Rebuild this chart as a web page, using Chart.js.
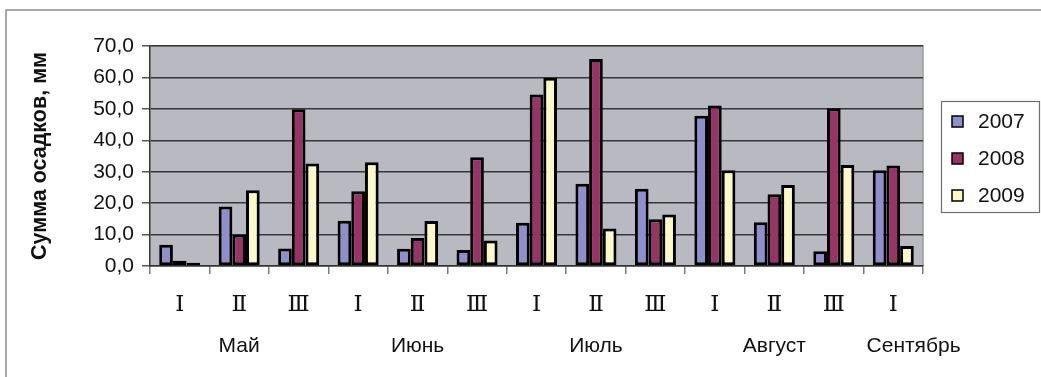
<!DOCTYPE html>
<html lang="ru">
<head>
<meta charset="utf-8">
<title>Сумма осадков по декадам, 2007–2009</title>
<script src="https://cdn.jsdelivr.net/npm/chart.js@4/dist/chart.umd.min.js"></script>
<style>
  html, body { margin: 0; padding: 0; background: #ffffff; }
  #wrap { width: 1041px; height: 377px; position: relative; }
  canvas { display: block; }
</style>
</head>
<body>
<div id="wrap"><canvas id="chart" width="1041" height="377"></canvas></div>
<script>
// Decades (I, II, III) of each month, May through the first decade of September
const decades = ['Ⅰ', 'Ⅱ', 'Ⅲ', 'Ⅰ', 'Ⅱ', 'Ⅲ', 'Ⅰ', 'Ⅱ', 'Ⅲ', 'Ⅰ', 'Ⅱ', 'Ⅲ', 'Ⅰ'];
// Month name shown under the middle decade of each month
const months = ['', 'Май', '', '', 'Июнь', '', '', 'Июль', '', '', 'Август', '', 'Сентябрь'];

// Precipitation totals per decade, mm
const rain2007 = [6.8, 18.9, 5.6, 14.4, 5.5, 5.1, 13.8, 26.2, 24.6, 47.8, 13.9, 4.7, 30.5];
const rain2008 = [1.7, 10.0, 49.9, 23.8, 8.9, 34.6, 54.6, 65.9, 14.9, 51.1, 22.8, 50.2, 32.0];
const rain2009 = [1.0, 24.1, 32.6, 33.0, 14.3, 8.1, 59.9, 11.9, 16.4, 30.5, 25.8, 32.1, 6.4];

const seriesNames = ['2007', '2008', '2009'];
const yTicks = [0, 10, 20, 30, 40, 50, 60, 70];

const colors = ['#8f8fcd', '#993366', '#fbf9c8'];
const sansFont = '"Liberation Sans", Arial, sans-serif';
const serifFont = '"DejaVu Serif", "Liberation Serif", serif';

// Grey plot area with light top/right edges, plus the outer frame lines
const backdrop = {
  id: 'backdrop',
  beforeDraw(chart) {
    const { ctx, chartArea: a } = chart;
    ctx.save();
    ctx.fillStyle = '#ffffff';
    ctx.fillRect(0, 0, chart.width, chart.height);
    ctx.strokeStyle = '#8c8c8c';
    ctx.lineWidth = 1.5;
    ctx.beginPath();
    ctx.moveTo(6, chart.height);
    ctx.lineTo(6, 10);
    ctx.lineTo(chart.width, 10);
    ctx.stroke();
    ctx.fillStyle = '#b9bac1';
    ctx.fillRect(a.left, a.top, a.right - a.left, a.bottom - a.top);
    ctx.strokeStyle = '#9a9a9a';
    ctx.lineWidth = 1.5;
    ctx.beginPath();
    ctx.moveTo(a.left, a.top);
    ctx.lineTo(a.right, a.top);
    ctx.lineTo(a.right, a.bottom);
    ctx.stroke();
    ctx.restore();
  }
};

// Month names under the decade numerals; a name wider than its slot runs to the right
const monthRow = {
  id: 'monthRow',
  afterDraw(chart) {
    const { ctx } = chart;
    const x = chart.scales.x;
    const slot = x.width / months.length;
    ctx.save();
    ctx.font = '21px ' + sansFont;
    ctx.fillStyle = '#111111';
    ctx.textBaseline = 'middle';
    months.forEach((m, i) => {
      if (!m) return;
      const cx = x.getPixelForValue(i);
      const w = ctx.measureText(m).width;
      if (w > slot && i === months.length - 1) {
        ctx.textAlign = 'left';
        ctx.fillText(m, cx - slot / 2 + 3, 346);
      } else {
        ctx.textAlign = 'center';
        ctx.fillText(m, cx, 346);
      }
    });
    ctx.restore();
  }
};

// Boxed legend to the right of the plot
const boxLegend = {
  id: 'boxLegend',
  afterDraw(chart) {
    const { ctx } = chart;
    const left = 941, top = 101, right = 1039, bottom = 212;
    ctx.save();
    ctx.strokeStyle = '#6e6e6e';
    ctx.lineWidth = 1.2;
    ctx.strokeRect(left + 0.5, top + 0.5, right - left, bottom - top);
    ctx.font = '21px ' + sansFont;
    ctx.textBaseline = 'middle';
    ctx.textAlign = 'left';
    chart.data.datasets.forEach((ds, i) => {
      const cy = 121 + i * 37;
      ctx.fillStyle = ds.backgroundColor;
      ctx.fillRect(952, cy - 5, 11, 11);
      ctx.strokeStyle = '#000000';
      ctx.lineWidth = 1.5;
      ctx.strokeRect(952, cy - 5, 11, 11);
      ctx.fillStyle = '#111111';
      ctx.fillText(ds.label, 978, cy + 1);
    });
    ctx.restore();
  }
};

const seriesData = [rain2007, rain2008, rain2009];

new Chart(document.getElementById('chart'), {
  type: 'bar',
  data: {
    labels: decades,
    datasets: seriesData.map((d, i) => ({
      label: seriesNames[i],
      data: d,
      backgroundColor: colors[i],
      borderColor: '#000000',
      borderWidth: 3,
      borderSkipped: false,
      barPercentage: 1.0,
      categoryPercentage: 0.69
    }))
  },
  options: {
    responsive: false,
    animation: false,
    layout: { padding: { left: 0, top: 46, right: 118, bottom: 0 } },
    plugins: {
      legend: { display: false },
      tooltip: { enabled: false }
    },
    scales: {
      x: {
        type: 'category',
        afterFit(scale) { scale.height = 111; },
        grid: {
          display: true,
          offset: true,
          drawOnChartArea: false,
          drawTicks: true,
          tickLength: 8,
          tickColor: '#7a7a7a',
          lineWidth: 1.5
        },
        border: { display: true, color: '#333333', width: 1.5 },
        ticks: {
          color: '#111111',
          font: { family: serifFont, size: 23 },
          padding: 17,
          maxRotation: 0,
          autoSkip: false
        }
      },
      y: {
        min: 0,
        max: 70,
        afterFit(scale) { scale.width = 150; },
        afterBuildTicks(scale) { scale.ticks = yTicks.map(v => ({ value: v })); },
        grid: {
          color: '#363636',
          lineWidth: 1.5,
          drawTicks: true,
          tickLength: 8,
          tickColor: '#555555'
        },
        border: { display: true, color: '#333333', width: 1.5 },
        ticks: {
          color: '#111111',
          font: { family: sansFont, size: 21 },
          padding: 8,
          callback: v => v.toFixed(1).replace('.', ',')
        },
        title: {
          display: true,
          text: 'Сумма осадков, мм',
          color: '#111111',
          font: { family: sansFont, size: 21.5, weight: 'bold' },
          padding: { top: 27, bottom: 0 }
        }
      }
    }
  },
  plugins: [backdrop, monthRow, boxLegend]
});
</script>
</body>
</html>
